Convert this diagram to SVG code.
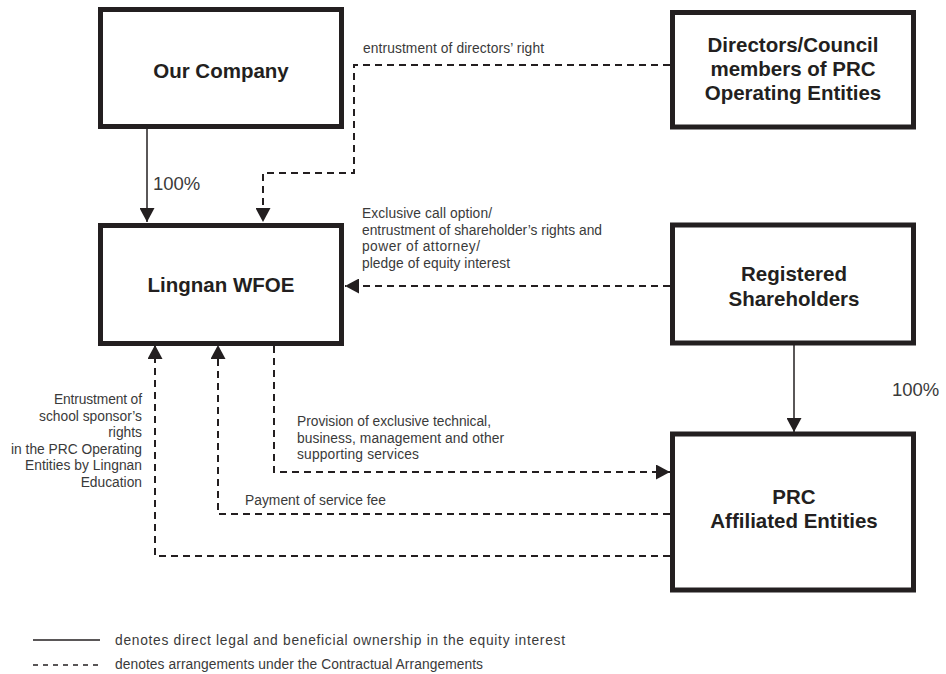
<svg xmlns="http://www.w3.org/2000/svg" width="946" height="674" viewBox="0 0 946 674">
<style>
.box{fill:#fff;stroke:#231f20;stroke-width:5}
.title{font-family:"Liberation Sans",Arial,sans-serif;font-weight:bold;font-size:20.5px;fill:#231f20;text-anchor:middle}
.lbl{font-family:"Liberation Sans",Arial,sans-serif;font-size:13.8px;fill:#3a3a3a}
.r{text-anchor:end}
.pct{font-family:"Liberation Sans",Arial,sans-serif;font-size:18.5px;fill:#3a3a3a}
.solid{fill:none;stroke:#231f20;stroke-width:1.5}
.dash{fill:none;stroke:#231f20;stroke-width:2;stroke-dasharray:7 5}
</style>
<defs>
<marker id="arr" viewBox="0 0 14 15" refX="14" refY="7.5" markerWidth="14" markerHeight="15" markerUnits="userSpaceOnUse" orient="auto">
<path d="M0,0 L14,7.5 L0,15 z" fill="#231f20"/>
</marker>
</defs>
<rect width="946" height="674" fill="#fff"/>

<g id="connectors">
<path class="solid" d="M147,129 V222" marker-end="url(#arr)"/>
<path class="dash" d="M670,65 H354 V173 H263 V222" marker-end="url(#arr)"/>
<path class="dash" d="M670,286 H345" marker-end="url(#arr)"/>
<path class="solid" d="M794,345 V432" marker-end="url(#arr)"/>
<path class="dash" d="M274,346 V472 H670" marker-end="url(#arr)"/>
<path class="dash" d="M670,514 H218 V345" marker-end="url(#arr)"/>
<path class="dash" d="M670,556 H155 V345" marker-end="url(#arr)"/>
</g>

<g id="labels">
<text class="pct" x="153" y="190">100%</text>
<text class="pct" x="892" y="396">100%</text>
<text class="lbl" x="363" y="53" textLength="181" lengthAdjust="spacing">entrustment of directors’ right</text>
<text class="lbl" x="362" y="218" textLength="130" lengthAdjust="spacing">Exclusive call option/</text>
<text class="lbl" x="362" y="235" textLength="240" lengthAdjust="spacing">entrustment of shareholder’s rights and</text>
<text class="lbl" x="362" y="251" textLength="118" lengthAdjust="spacing">power of attorney/</text>
<text class="lbl" x="362" y="268" textLength="148" lengthAdjust="spacing">pledge of equity interest</text>
<text class="lbl" x="297" y="426" textLength="194" lengthAdjust="spacing">Provision of exclusive technical,</text>
<text class="lbl" x="297" y="443" textLength="207" lengthAdjust="spacing">business, management and other</text>
<text class="lbl" x="297" y="459" textLength="122" lengthAdjust="spacing">supporting services</text>
<text class="lbl" x="245" y="505" textLength="141" lengthAdjust="spacing">Payment of service fee</text>
<text class="lbl r" x="142" y="404" textLength="88" lengthAdjust="spacing">Entrustment of</text>
<text class="lbl r" x="142" y="421" textLength="103" lengthAdjust="spacing">school sponsor’s</text>
<text class="lbl r" x="142" y="437">rights</text>
<text class="lbl r" x="142" y="454" textLength="131" lengthAdjust="spacing">in the PRC Operating</text>
<text class="lbl r" x="142" y="470" textLength="117" lengthAdjust="spacing">Entities by Lingnan</text>
<text class="lbl r" x="142" y="487">Education</text>
</g>

<g id="our-company">
<rect class="box" x="100.5" y="9.5" width="241" height="117"/>
<text class="title" x="221" y="78">Our Company</text>
</g>
<g id="directors">
<rect class="box" x="672.5" y="12.5" width="241" height="114.5"/>
<text class="title" x="793"><tspan x="793" y="52">Directors/Council</tspan><tspan x="793" y="76">members of PRC</tspan><tspan x="793" y="100">Operating Entities</tspan></text>
</g>
<g id="lingnan-wfoe">
<rect class="box" x="100.5" y="225.5" width="241" height="118"/>
<text class="title" x="221" y="292">Lingnan WFOE</text>
</g>
<g id="registered-shareholders">
<rect class="box" x="672.5" y="225" width="241" height="118"/>
<text class="title" x="794"><tspan x="794" y="281">Registered</tspan><tspan x="794" y="306">Shareholders</tspan></text>
</g>
<g id="prc-affiliated">
<rect class="box" x="672.5" y="434" width="241" height="156"/>
<text class="title" x="794"><tspan x="794" y="504">PRC</tspan><tspan x="794" y="528">Affiliated Entities</tspan></text>
</g>

<g id="legend">
<line class="solid" x1="33" y1="640" x2="100" y2="640"/>
<text class="lbl" x="115" y="645" textLength="450" lengthAdjust="spacing">denotes direct legal and beneficial ownership in the equity interest</text>
<line class="dash" x1="33" y1="665" x2="100" y2="665" style="stroke-width:1.5;stroke-dasharray:5 5"/>
<text class="lbl" x="115" y="669" textLength="368" lengthAdjust="spacing">denotes arrangements under the Contractual Arrangements</text>
</g>
</svg>
